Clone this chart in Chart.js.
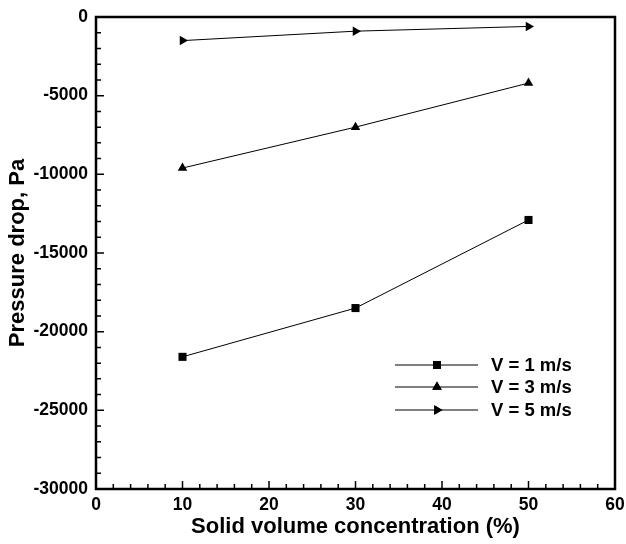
<!DOCTYPE html>
<html>
<head>
<meta charset="utf-8">
<script src="https://cdn.jsdelivr.net/npm/chart.js@4/dist/chart.umd.min.js"></script>
<style>
  body { margin: 0; background: #fff; }
  canvas { display: block; }
</style>
</head>
<body>
<canvas id="chart" width="626" height="544"></canvas>
<script>
// solid volume concentration (%)
const concentration = [10, 30, 50]
// pressure drop (Pa) for each inlet velocity
const dropV1 = [-21600, -18500, -12900]
const dropV3 = [-9600, -7000, -4200]
const dropV5 = [-1500, -900, -600]
const seriesLabels = ['V = 1 m/s', 'V = 3 m/s', 'V = 5 m/s']
const xTickValues = [0, 10, 20, 30, 40, 50, 60]
const yTickValues = [-30000, -25000, -20000, -15000, -10000, -5000, 0]

const FONT = "'Liberation Sans', Arial, sans-serif"

function pts(ys) {
  return concentration.map((x, i) => ({ x: x, y: ys[i] }))
}

function series(label, ys, style, rot, r) {
  return {
    label: label,
    data: pts(ys),
    borderColor: '#000',
    backgroundColor: '#000',
    borderWidth: 1,
    pointStyle: style,
    rotation: rot,
    pointRadius: r,
    pointBorderWidth: 0,
    pointBackgroundColor: '#000',
    tension: 0
  }
}

// frame, inward tick marks and the legend box
const decorations = {
  id: 'decorations',
  afterDraw(chart) {
    const ctx = chart.ctx
    const a = chart.chartArea
    const xs = chart.scales.x
    const ys = chart.scales.y
    ctx.save()
    ctx.strokeStyle = '#000'
    ctx.lineWidth = 1.5
    ctx.beginPath()
    for (let v = 0; v <= 60; v += 2) {
      const px = xs.getPixelForValue(v)
      const len = v % 10 === 0 ? 8 : 5
      ctx.moveTo(px, a.bottom)
      ctx.lineTo(px, a.bottom - len)
    }
    for (let v = -30000; v <= 0; v += 1000) {
      const py = ys.getPixelForValue(v)
      const len = v % 5000 === 0 ? 8 : 5
      ctx.moveTo(a.left, py)
      ctx.lineTo(a.left + len, py)
    }
    ctx.stroke()

    ctx.lineWidth = 2.5
    ctx.strokeRect(a.left, a.top, a.right - a.left, a.bottom - a.top)

    // legend
    const rows = [365, 387, 410]
    ctx.font = 'bold 18.5px ' + FONT
    ctx.textBaseline = 'middle'
    ctx.textAlign = 'left'
    ctx.fillStyle = '#000'
    chart.data.datasets.forEach((ds, i) => {
      const y = rows[i]
      ctx.lineWidth = 1
      ctx.beginPath()
      ctx.moveTo(395, y)
      ctx.lineTo(478, y)
      ctx.stroke()
      Chart.helpers.drawPoint(ctx, {
        pointStyle: ds.pointStyle,
        rotation: ds.rotation,
        radius: ds.pointRadius,
        borderWidth: 0
      }, 437, y)
      ctx.fill()
      ctx.fillText(ds.label, 491, y + 1)
    })
    ctx.restore()
  }
}

new Chart(document.getElementById('chart'), {
  type: 'line',
  data: {
    datasets: [
      series(seriesLabels[0], dropV1, 'rect', 0, 5.7),
      series(seriesLabels[1], dropV3, 'triangle', 0, 5.5),
      series(seriesLabels[2], dropV5, 'triangle', 90, 5.5)
    ]
  },
  options: {
    responsive: false,
    animation: false,
    layout: { padding: { top: 17, right: 11, left: 0, bottom: 0 } },
    plugins: { legend: { display: false }, tooltip: { enabled: false } },
    scales: {
      x: {
        type: 'linear',
        min: 0,
        max: 60,
        afterFit(s) { s.height = 55; s.paddingLeft = 0; s.paddingRight = 0 },
        afterBuildTicks(s) { s.ticks = xTickValues.map(v => ({ value: v })) },
        grid: { display: false, drawTicks: false },
        border: { display: false },
        ticks: {
          color: '#000',
          padding: 6,
          font: { family: FONT, size: 17.5, weight: 'bold' },
          callback: v => String(v)
        },
        title: {
          display: true,
          text: 'Solid volume concentration (%)',
          color: '#000',
          font: { family: FONT, size: 22, weight: 'bold' },
          padding: { top: 0, bottom: 4 }
        }
      },
      y: {
        type: 'linear',
        min: -30000,
        max: 0,
        afterFit(s) { s.width = 96; s.paddingTop = 0; s.paddingBottom = 0 },
        afterBuildTicks(s) { s.ticks = yTickValues.map(v => ({ value: v })) },
        grid: { display: false, drawTicks: false },
        border: { display: false },
        ticks: {
          color: '#000',
          padding: 8,
          font: { family: FONT, size: 17.5, weight: 'bold' },
          callback: v => String(v)
        },
        title: {
          display: true,
          text: 'Pressure drop, Pa',
          color: '#000',
          font: { family: FONT, size: 22, weight: 'bold' },
          padding: { top: 5, bottom: 0 }
        }
      }
    }
  },
  plugins: [decorations]
})
</script>
</body>
</html>
